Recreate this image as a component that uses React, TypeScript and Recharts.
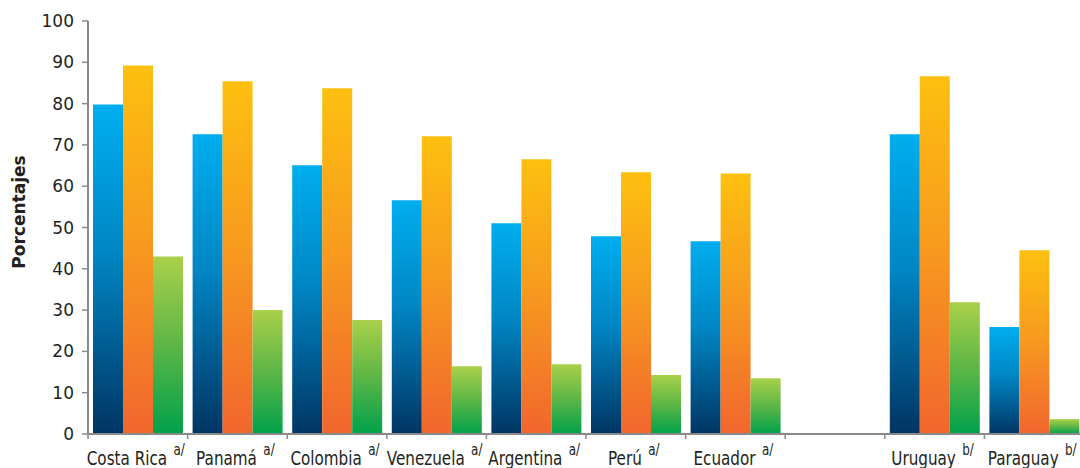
import React from "react";
import { Bar, BarChart, XAxis, YAxis } from "recharts";

const categories = ["Costa Rica", "Panamá", "Colombia", "Venezuela", "Argentina", "Perú", "Ecuador", "", "Uruguay", "Paraguay"];
const notes = ["a/", "a/", "a/", "a/", "a/", "a/", "a/", "", "b/", "b/"];
const serieAzul = [79.8, 72.6, 65.1, 56.6, 51.0, 47.9, 46.7, null, 72.6, 25.9];
const serieNaranja = [89.2, 85.4, 83.7, 72.1, 66.5, 63.4, 63.1, null, 86.6, 44.5];
const serieVerde = [43.0, 30.0, 27.6, 16.4, 16.9, 14.3, 13.5, null, 31.9, 3.6];
const yTicks = [0, 10, 20, 30, 40, 50, 60, 70, 80, 90, 100];

const data = categories.map((name, i) => ({
  name,
  note: notes[i],
  azul: serieAzul[i],
  naranja: serieNaranja[i],
  verde: serieVerde[i]
}));

const CHART_W = 1090;
const CHART_H = 468;
const X_H = 30;
const MARGIN = { top: 21, right: 6, bottom: 4, left: 0 };
const Y_W = 88;
const SLOT = (CHART_W - MARGIN.left - MARGIN.right - Y_W) / categories.length;
const AXIS = "#8a8a8a";
const FONT = "'DejaVu Sans', Verdana, sans-serif";

const XTick = (props: any) => {
  const { x, y, payload, index } = props;
  const note = notes[index] ?? "";
  return (
    <g>
      <line x1={x - SLOT / 2} x2={x - SLOT / 2} y1={y} y2={y + 5} stroke={AXIS} strokeWidth={1.5} />
      <g transform={`translate(${x - 2},${y + 31}) scale(0.8,1)`}>
        <text x={0} y={0} textAnchor="middle" fontFamily={FONT} fontSize={19} fill="#231f20">
          {payload.value}
          {note ? (
            <tspan dx={8} dy={-10} fontSize={15}>
              {note}
            </tspan>
          ) : null}
        </text>
      </g>
    </g>
  );
};

const YLabel = () => (
  <text
    x={25}
    y={212}
    transform="rotate(-90 25 212)"
    textAnchor="middle"
    fontFamily={FONT}
    fontSize={17}
    fontWeight="bold"
    fill="#231f20"
  >
    Porcentajes
  </text>
);

export default function App() {
  return (
    <div style={{ position: "absolute", left: 0, top: 0, width: 1080, height: 468, overflow: "hidden", background: "#fff" }}>
      <BarChart width={CHART_W} height={CHART_H} data={data} margin={MARGIN} barCategoryGap={5} barGap={0}>
        <defs>
          <linearGradient id="gAzul" x1="0" y1="0" x2="0" y2="1">
            <stop offset="0%" stopColor="#00aeef" />
            <stop offset="45%" stopColor="#0086c4" />
            <stop offset="100%" stopColor="#003563" />
          </linearGradient>
          <linearGradient id="gNaranja" x1="0" y1="0" x2="0" y2="1">
            <stop offset="0%" stopColor="#fdc010" />
            <stop offset="50%" stopColor="#f7981f" />
            <stop offset="100%" stopColor="#f1662e" />
          </linearGradient>
          <linearGradient id="gVerde" x1="0" y1="0" x2="0" y2="1">
            <stop offset="0%" stopColor="#a9d04a" />
            <stop offset="50%" stopColor="#5db646" />
            <stop offset="100%" stopColor="#00a14b" />
          </linearGradient>
        </defs>
        <XAxis
          dataKey="name"
          height={X_H}
          interval={0}
          tickLine={false}
          tickSize={0}
          tickMargin={0}
          axisLine={{ stroke: AXIS, strokeWidth: 2 }}
          tick={<XTick />}
        />
        <YAxis
          width={Y_W}
          domain={[0, 100]}
          ticks={yTicks}
          interval={0}
          tickSize={6}
          tickMargin={8}
          axisLine={{ stroke: AXIS, strokeWidth: 2 }}
          tickLine={{ stroke: AXIS, strokeWidth: 1.5 }}
          tick={{ fontFamily: FONT, fontSize: 17, fill: "#231f20" }}
          label={{ content: () => <YLabel /> }}
        />
        <Bar dataKey="azul" fill="url(#gAzul)" isAnimationActive={false} />
        <Bar dataKey="naranja" fill="url(#gNaranja)" isAnimationActive={false} />
        <Bar dataKey="verde" fill="url(#gVerde)" isAnimationActive={false} />
      </BarChart>
    </div>
  );
}
